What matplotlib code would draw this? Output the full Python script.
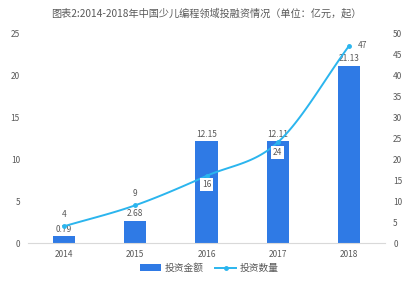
import matplotlib
matplotlib.use("Agg")
import matplotlib.pyplot as plt
import numpy as np
from matplotlib.lines import Line2D

plt.rcParams['font.family'] = ['Noto Sans CJK SC', 'DejaVu Sans']

years = ['2014', '2015', '2016', '2017', '2018']
amount = [0.79, 2.68, 12.15, 12.11, 21.13]
count = [4, 9, 16, 24, 47]
amount_labels = ['0.79', '2.68', '12.15', '12.11', '21.13']
count_labels = ['4', '9', '16', '24', '47']

bar_color = '#2F7AE5'
line_color = '#2BB5EE'
text_color = '#595959'

fig = plt.figure(figsize=(4.16, 2.83), dpi=100)
ax = fig.add_axes([0.068, 0.141, 0.857, 0.742])
ax2 = ax.twinx()

x = np.arange(len(years))
bars = ax.bar(x, amount, width=0.31, color=bar_color, label='投资金额', zorder=2)
ax.set_xlim(-0.5, 4.5)
ax.set_ylim(0, 25)
ax.set_yticks([0, 5, 10, 15, 20, 25])
ax2.set_ylim(0, 50)
ax2.set_yticks([0, 5, 10, 15, 20, 25, 30, 35, 40, 45, 50])
ax.set_xticks(x)
ax.set_xticklabels(years)

for a in (ax, ax2):
    for s in ['top', 'left', 'right']:
        a.spines[s].set_visible(False)
    a.spines['bottom'].set_color('#D9D9D9')
    a.tick_params(length=0, labelsize=6, colors=text_color, pad=6)
ax2.spines['bottom'].set_visible(False)
ax.tick_params(axis='x', pad=5)

# smooth rendering of the line (Catmull-Rom through data points)
xs = x.astype(float)
ys = np.array(count, dtype=float)
px = np.concatenate([[2 * xs[0] - xs[1]], xs, [2 * xs[-1] - xs[-2]]])
py = np.concatenate([[2 * ys[0] - ys[1]], ys, [2 * ys[-1] - ys[-2]]])
sx, sy = [], []
t = np.linspace(0, 1, 30)
for i in range(1, len(px) - 2):
    p0, p1, p2, p3 = [np.array([px[j], py[j]]) for j in (i - 1, i, i + 1, i + 2)]
    for tt in t:
        pt = 0.5 * ((2 * p1) + (-p0 + p2) * tt + (2 * p0 - 5 * p1 + 4 * p2 - p3) * tt ** 2
                    + (-p0 + 3 * p1 - 3 * p2 + p3) * tt ** 3)
        sx.append(pt[0]); sy.append(pt[1])
ax2.plot(sx, sy, color=line_color, lw=1.4, zorder=3)
ax2.plot(xs, ys, 'o', color=line_color, ms=2.5, zorder=4)
line_handle = Line2D([0], [0], color=line_color, lw=1.4, marker='o', ms=2.5)

for xi, v, lab in zip(x, amount, amount_labels):
    ax.text(xi, v + 0.3, lab, ha='center', va='bottom', fontsize=6, color=text_color, zorder=5)

offsets = [(0, 5, 'bottom', 'center'), (0, 5, 'bottom', 'center'), (0, -3, 'top', 'center'),
           (0, -4, 'top', 'center'), (6, 0, 'center', 'left')]
for xi, v, lab, (dx, dy, va, ha) in zip(x, count, count_labels, offsets):
    ax2.annotate(lab, (xi, v), xytext=(dx, dy), textcoords='offset points', ha=ha, va=va,
                 fontsize=6, color=text_color, zorder=6,
                 bbox=dict(boxstyle='square,pad=0.2', fc='white', ec='none') if va == 'top' else None)

fig.text(0.495, 0.952, '图表2:2014-2018年中国少儿编程领域投融资情况（单位：亿元，起）',
         ha='center', va='center', fontsize=7.3, color=text_color)

fig.legend([bars, line_handle], ['投资金额', '投资数量'], loc='center', bbox_to_anchor=(0.503, 0.053),
           ncol=2, frameon=False, fontsize=7, labelcolor=text_color, handlelength=2.2,
           handleheight=0.6, columnspacing=1.2, handletextpad=0.3)

fig.savefig('out.png', dpi=100, facecolor='white')
